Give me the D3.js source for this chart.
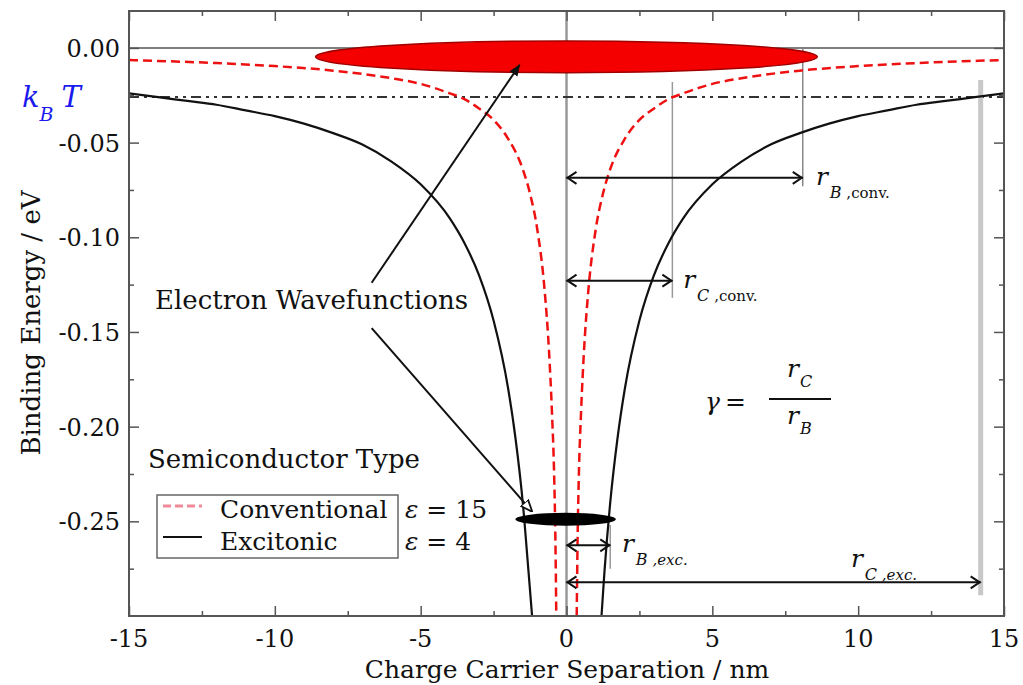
<!DOCTYPE html>
<html>
<head>
<meta charset="utf-8">
<script src="https://cdn.jsdelivr.net/npm/d3@7"></script>
<style>
  body { margin: 0; background: #fff; }
  svg text { fill: #111; }
</style>
</head>
<body>
<div id="chart"></div>
<script>
// curve values (nm, eV)
var excLeftX  = [-15, -14, -13, -12, -11, -10, -9, -8, -7, -6, -5, -4, -3.5, -3, -2.5, -2, -1.75, -1.5, -1.3, -1.18];
var excLeftE  = [-0.024, -0.026, -0.028, -0.030, -0.033, -0.036, -0.040, -0.045, -0.051, -0.060, -0.072, -0.090, -0.103, -0.120, -0.144, -0.180, -0.206, -0.240, -0.277, -0.300];
var excRightX = [1.2, 1.3, 1.5, 1.75, 2, 2.5, 3, 3.5, 4, 5, 6, 7, 8, 9, 10, 11, 12, 13, 14, 15];
var excRightE = [-0.300, -0.277, -0.240, -0.206, -0.180, -0.144, -0.120, -0.103, -0.090, -0.072, -0.060, -0.051, -0.045, -0.040, -0.036, -0.033, -0.030, -0.028, -0.026, -0.024];

var convLeftX  = [-15, -12, -10, -8, -6, -5, -4, -3.5, -3, -2.5, -2, -1.5, -1.25, -1, -0.75, -0.6, -0.5, -0.42, -0.38, -0.35];
var convLeftE  = [-0.0064, -0.008, -0.0096, -0.012, -0.016, -0.019, -0.024, -0.027, -0.032, -0.038, -0.048, -0.064, -0.077, -0.096, -0.128, -0.160, -0.192, -0.228, -0.26, -0.300];
var convRightX = [0.35, 0.38, 0.42, 0.5, 0.6, 0.75, 1, 1.25, 1.5, 2, 2.5, 3, 3.5, 4, 5, 6, 8, 10, 12, 15];
var convRightE = [-0.300, -0.26, -0.228, -0.192, -0.160, -0.128, -0.096, -0.077, -0.064, -0.048, -0.038, -0.032, -0.027, -0.024, -0.019, -0.016, -0.012, -0.0096, -0.008, -0.0064];

var kT = -0.0259;
var xTicks = [-15, -10, -5, 0, 5, 10, 15];
var yTicks = [0, -0.05, -0.10, -0.15, -0.20, -0.25];
var yTickLabels = ["0.00", "-0.05", "-0.10", "-0.15", "-0.20", "-0.25"];

// radii marked with arrows
var rBconv = 8.1, rCconv = 3.63, rBexc = 1.5, rCexc = 14.2;

var serif = "'DejaVu Serif', serif";
var width = 1023, height = 685;
var margin = { top: 11, left: 129, right: 19, bottom: 69 };
var plotW = width - margin.left - margin.right;
var plotH = height - margin.top - margin.bottom;

var svg = d3.select("#chart").append("svg")
  .attr("width", width)
  .attr("height", height)
  .attr("font-family", serif)
  .style("font-family", serif);

var defs = svg.append("defs");
defs.append("clipPath").attr("id", "plotClip")
  .append("rect").attr("x", 0).attr("y", 0).attr("width", plotW).attr("height", plotH);

var x = d3.scaleLinear().domain([-15, 15]).range([0, plotW]);
var y = d3.scaleLinear().domain([-0.3, 0.0195]).range([plotH, 0]);

var g = svg.append("g").attr("transform", "translate(" + margin.left + "," + margin.top + ")");

// zero lines
g.append("line")
  .attr("x1", 0).attr("x2", plotW).attr("y1", y(0)).attr("y2", y(0))
  .attr("stroke", "#555").attr("stroke-width", 1.5);
g.append("line")
  .attr("x1", x(0)).attr("x2", x(0)).attr("y1", 0).attr("y2", plotH)
  .attr("stroke", "#999").attr("stroke-width", 2.5);

// kT line
g.append("line")
  .attr("x1", 0).attr("x2", plotW).attr("y1", y(kT)).attr("y2", y(kT))
  .attr("stroke", "#333").attr("stroke-width", 2)
  .attr("stroke-dasharray", "10,5,3,5,3,5");

// marker lines for radii
function vline(xv, y1, y2, w, col) {
  g.append("line")
    .attr("x1", x(xv)).attr("x2", x(xv)).attr("y1", y(y1)).attr("y2", y(y2))
    .attr("stroke", col).attr("stroke-width", w);
}
vline(rCexc, -0.017, -0.289, 5, "#c8c8c8");
vline(rBconv, 0, -0.073, 1.5, "#888");
vline(rCconv, -0.018, -0.132, 1.5, "#999");
vline(rBexc, -0.252, -0.275, 1.5, "#999");

// wavefunction ellipses
g.append("ellipse")
  .attr("cx", x(0)).attr("cy", y(-0.0047))
  .attr("rx", x(8.6) - x(0)).attr("ry", y(-0.0047) - y(0.0037))
  .attr("fill", "#f40000").attr("stroke", "#a00000").attr("stroke-width", 1.5);

var curves = g.append("g").attr("clip-path", "url(#plotClip)");
var line = d3.line()
  .x(function(d) { return x(d[0]); })
  .y(function(d) { return y(d[1]); })
  .curve(d3.curveMonotoneX);

function branch(xs, es) { return xs.map(function(v, i) { return [v, es[i]]; }); }

[branch(convLeftX, convLeftE), branch(convRightX, convRightE)].forEach(function(b) {
  curves.append("path").datum(b).attr("d", line)
    .attr("fill", "none").attr("stroke", "#ee1111").attr("stroke-width", 2.5)
    .attr("stroke-dasharray", "9,5");
});
[branch(excLeftX, excLeftE), branch(excRightX, excRightE)].forEach(function(b) {
  curves.append("path").datum(b).attr("d", line)
    .attr("fill", "none").attr("stroke", "#111").attr("stroke-width", 2.2);
});

g.append("ellipse")
  .attr("cx", x(-0.03)).attr("cy", y(-0.2489))
  .attr("rx", x(1.72) - x(0)).attr("ry", 6.5)
  .attr("fill", "#000");

// double-headed arrows with open chevron heads
function chevron(px, py, dir) {
  g.append("path")
    .attr("d", "M" + (px - dir * 9) + "," + (py - 6) + " L" + px + "," + py + " L" + (px - dir * 9) + "," + (py + 6))
    .attr("fill", "none").attr("stroke", "#111").attr("stroke-width", 2);
}
function dimArrow(x2v, yv) {
  g.append("line")
    .attr("x1", x(0)).attr("x2", x(x2v)).attr("y1", y(yv)).attr("y2", y(yv))
    .attr("stroke", "#111").attr("stroke-width", 2);
  chevron(x(0) + 1, y(yv), -1);
  chevron(x(x2v) - 1, y(yv), 1);
}
dimArrow(rBconv, -0.0686);
dimArrow(rCconv, -0.1229);
dimArrow(rBexc, -0.2627);
dimArrow(rCexc, -0.2822);

// radius labels
function rLabel(px, py, sub1, sub2) {
  var t = g.append("text").attr("x", x(px)).attr("y", y(py))
    .style("font-size", "25px").style("font-style", "italic").text("r");
  t.append("tspan").attr("dx", 2).attr("dy", 13).style("font-size", "16px").text(sub1);
  t.append("tspan").style("font-size", "15px").style("font-style", sub2 === ",exc." ? "italic" : "normal").text(" " + sub2);
}
rLabel(8.55, -0.0723, "B", ",conv.");
rLabel(4.0, -0.1267, "C", ",conv.");
rLabel(1.9, -0.2663, "B", ",exc.");
rLabel(9.75, -0.2742, "C", ",exc.");

// gamma formula
g.append("text").attr("x", 576).attr("y", 399)
  .style("font-size", "25px").style("font-style", "italic").text("\u03b3");
g.append("text").attr("x", 596).attr("y", 399)
  .style("font-size", "25px").text("=");
g.append("line").attr("x1", 640).attr("x2", 702).attr("y1", 388).attr("y2", 388)
  .attr("stroke", "#111").attr("stroke-width", 2);
var num = g.append("text").attr("x", 658).attr("y", 366)
  .style("font-size", "25px").style("font-style", "italic").text("r");
num.append("tspan").attr("dx", 1).attr("dy", 10).style("font-size", "16px").text("C");
var den = g.append("text").attr("x", 658).attr("y", 413)
  .style("font-size", "25px").style("font-style", "italic").text("r");
den.append("tspan").attr("dx", 1).attr("dy", 10).style("font-size", "16px").text("B");

// Electron wavefunctions annotation
g.append("text").attr("x", 26).attr("y", 298).style("font-size", "26px").text("Electron Wavefunctions");
defs.append("marker").attr("id", "headFill")
  .attr("viewBox", "0 0 10 10").attr("refX", 9).attr("refY", 5)
  .attr("markerWidth", 6).attr("markerHeight", 6).attr("orient", "auto")
  .append("path").attr("d", "M0,1 L10,5 L0,9 Z").attr("fill", "#111");
defs.append("marker").attr("id", "headOpen")
  .attr("viewBox", "0 0 10 10").attr("refX", 9).attr("refY", 5)
  .attr("markerWidth", 6).attr("markerHeight", 6).attr("orient", "auto")
  .append("path").attr("d", "M0,1 L10,5 L0,9 Z").attr("fill", "#fff").attr("stroke", "#111").attr("stroke-width", 1.5);
g.append("line")
  .attr("x1", x(-6.68)).attr("y1", y(-0.124)).attr("x2", x(-1.61)).attr("y2", y(-0.009))
  .attr("stroke", "#111").attr("stroke-width", 2).attr("marker-end", "url(#headFill)");
g.append("line")
  .attr("x1", x(-6.68)).attr("y1", y(-0.148)).attr("x2", x(-1.2)).attr("y2", y(-0.2445))
  .attr("stroke", "#111").attr("stroke-width", 2).attr("marker-end", "url(#headOpen)");

// legend
g.append("text").attr("x", 19).attr("y", 457).style("font-size", "26px").text("Semiconductor Type");
g.append("rect").attr("x", 28).attr("y", 484).attr("width", 241).attr("height", 63)
  .attr("fill", "#fff").attr("stroke", "#666").attr("stroke-width", 1.5);
g.append("line").attr("x1", 34).attr("x2", 73).attr("y1", 495).attr("y2", 495)
  .attr("stroke", "#f08a9a").attr("stroke-width", 3).attr("stroke-dasharray", "8,4");
g.append("line").attr("x1", 34).attr("x2", 73).attr("y1", 526).attr("y2", 526)
  .attr("stroke", "#111").attr("stroke-width", 2);
g.append("text").attr("x", 91).attr("y", 507).style("font-size", "25px").text("Conventional");
g.append("text").attr("x", 91).attr("y", 539).style("font-size", "25px").text("Excitonic");
var e1 = g.append("text").attr("x", 276).attr("y", 507).style("font-size", "25px");
e1.append("tspan").style("font-style", "italic").text("\u03b5");
e1.append("tspan").text(" = 15");
var e2 = g.append("text").attr("x", 276).attr("y", 539).style("font-size", "25px");
e2.append("tspan").style("font-style", "italic").text("\u03b5");
e2.append("tspan").text(" = 4");

// frame and ticks
g.append("rect").attr("x", 0).attr("y", 0).attr("width", plotW).attr("height", plotH)
  .attr("fill", "none").attr("stroke", "#555").attr("stroke-width", 2);

var xMinor = d3.range(-12.5, 15, 5);
var yMinor = [-0.025, -0.075, -0.125, -0.175, -0.225, -0.275];

function tickSet(axisGen, ticks, len, transform) {
  g.append("g").attr("transform", transform)
    .call(axisGen.tickValues(ticks).tickSize(len).tickFormat(""))
    .call(function(s) { s.select(".domain").remove(); s.selectAll("line").attr("stroke", "#555").attr("stroke-width", 1.5); });
}
tickSet(d3.axisTop(x), xTicks, 10, "translate(0," + plotH + ")");
tickSet(d3.axisTop(x), xMinor, 5, "translate(0," + plotH + ")");
tickSet(d3.axisBottom(x), xTicks, 10, "translate(0,0)");
tickSet(d3.axisBottom(x), xMinor, 5, "translate(0,0)");
tickSet(d3.axisRight(y), yTicks, 10, "translate(0,0)");
tickSet(d3.axisRight(y), yMinor, 5, "translate(0,0)");
tickSet(d3.axisLeft(y), yTicks, 10, "translate(" + plotW + ",0)");
tickSet(d3.axisLeft(y), yMinor, 5, "translate(" + plotW + ",0)");

// tick labels
g.selectAll(".xlab").data(xTicks).enter().append("text")
  .attr("x", function(d) { return x(d); }).attr("y", plotH + 31)
  .attr("text-anchor", "middle").style("font-size", "24px")
  .text(function(d) { return d; });
g.selectAll(".ylab").data(yTicks).enter().append("text")
  .attr("x", -9).attr("y", function(d) { return y(d) + 9; })
  .attr("text-anchor", "end").style("font-size", "24px")
  .text(function(d, i) { return yTickLabels[i]; });

// kB T label
var kb = svg.append("text").attr("x", 22).attr("y", 107)
  .style("font-size", "29px").style("font-style", "italic").style("fill", "#1a1aee").text("k");
kb.append("tspan").attr("dy", 14).style("font-size", "19px").style("fill", "#1a1aee").text("B");
kb.append("tspan").attr("dy", -14).attr("dx", 8).style("fill", "#1a1aee").text("T");

// axis titles
svg.append("text").attr("x", 567).attr("y", 678)
  .attr("text-anchor", "middle").style("font-size", "25px")
  .text("Charge Carrier Separation / nm");
svg.append("text").attr("transform", "translate(40,323) rotate(-90)")
  .attr("text-anchor", "middle").style("font-size", "26px")
  .text("Binding Energy / eV");
</script>
</body>
</html>
